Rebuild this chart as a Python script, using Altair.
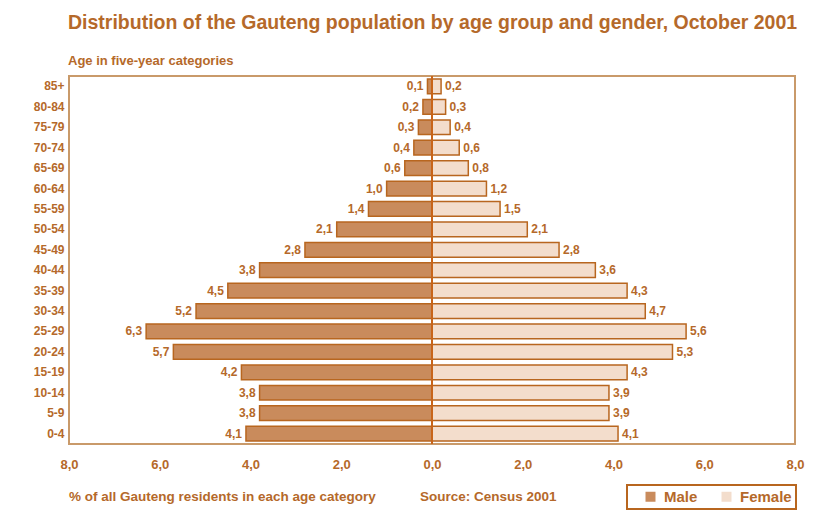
import altair as alt
import pandas as pd

ages = ["85+", "80-84", "75-79", "70-74", "65-69", "60-64", "55-59", "50-54", "45-49",
        "40-44", "35-39", "30-34", "25-29", "20-24", "15-19", "10-14", "5-9", "0-4"]
male = [0.1, 0.2, 0.3, 0.4, 0.6, 1.0, 1.4, 2.1, 2.8, 3.8, 4.5, 5.2, 6.3, 5.7, 4.2, 3.8, 3.8, 4.1]
female = [0.2, 0.3, 0.4, 0.6, 0.8, 1.2, 1.5, 2.1, 2.8, 3.6, 4.3, 4.7, 5.6, 5.3, 4.3, 3.9, 3.9, 4.1]
x_ticks = [-8, -6, -4, -2, 0, 2, 4, 6, 8]

TXT = "#b5692a"
EDGE = "#b8661f"
MALE_C = "#c98b5c"
FEMALE_C = "#f3ddcc"
FONT = "Liberation Sans"

rows = []
for a, m, f in zip(ages, male, female):
    rows.append({"age": a, "gender": "Male", "value": m})
    rows.append({"age": a, "gender": "Female", "value": f})
df = pd.DataFrame(rows)

base = alt.Chart(df).transform_calculate(
    signed="datum.gender == 'Male' ? -datum.value : datum.value",
    label="replace(format(datum.value, '.1f'), '.', ',')",
)

y_enc = alt.Y("age:N", sort=ages, title=None,
              scale=alt.Scale(paddingInner=0.28, paddingOuter=0.15),
              axis=alt.Axis(ticks=False, domain=False, labelFontWeight="bold",
                            labelFontSize=12, labelColor=TXT, labelFont=FONT,
                            labelPadding=5))
x_scale = alt.Scale(domain=[-8, 8], nice=False)

bars = base.mark_bar(stroke=EDGE, strokeWidth=1.5).encode(
    x=alt.X("signed:Q", scale=x_scale, title=None,
            axis=alt.Axis(values=x_ticks, grid=False, ticks=False, domain=False,
                          labelFlush=False,
                          labelExpr="replace(format(abs(datum.value), '.1f'), '.', ',')",
                          labelFontWeight="bold", labelFontSize=13, labelColor=TXT,
                          labelFont=FONT, labelPadding=14)),
    y=y_enc,
    color=alt.Color("gender:N", scale=alt.Scale(domain=["Male", "Female"],
                                                range=[MALE_C, FEMALE_C]),
                    legend=alt.Legend(title=None, orient="none", legendX=558, legendY=409,
                                      direction="horizontal", symbolType="square",
                                      symbolSize=100, symbolStrokeWidth=0,
                                      symbolOffset=12, labelOffset=6,
                                      labelFontSize=15, labelFontWeight="bold",
                                      labelColor=TXT, labelFont=FONT,
                                      padding=4, columnPadding=9, labelLimit=100)),
)

male_lab = base.transform_filter("datum.gender == 'Male'").mark_text(
    align="right", dx=-4, fontWeight="bold", fontSize=12, color=TXT, font=FONT
).encode(x=alt.X("signed:Q", scale=x_scale), y=alt.Y("age:N", sort=ages), text="label:N")

female_lab = base.transform_filter("datum.gender == 'Female'").mark_text(
    align="left", dx=4, fontWeight="bold", fontSize=12, color=TXT, font=FONT
).encode(x=alt.X("signed:Q", scale=x_scale), y=alt.Y("age:N", sort=ages), text="label:N")

zero = alt.Chart(pd.DataFrame({"z": [0]})).mark_rule(color="#c8651a", strokeWidth=2).encode(
    x=alt.X("z:Q", scale=x_scale))

notes = pd.DataFrame({"t": ["% of all Gauteng residents in each age category", "Source: Census 2001"],
                      "px": [0, 351]})
note_marks = alt.Chart(notes).mark_text(
    align="left", baseline="middle", fontWeight="bold", fontSize=13.5, color=TXT, font=FONT
).encode(x=alt.X("px:Q", scale=None), y=alt.value(421), text="t:N")

chart = alt.layer(bars, male_lab, female_lab, zero, note_marks).properties(
    width=726, height=368,
    background="white",
    autosize=alt.AutoSizeParams(type="none"),
    padding={"left": 61, "top": 68, "right": 10, "bottom": 70},
    title=alt.TitleParams(
        text="Distribution of the Gauteng population by age group and gender, October 2001",
        subtitle="Age in five-year categories",
        anchor="start", frame="group", offset=6, fontSize=19.5, fontWeight="bold",
        color=TXT, font=FONT, subtitleFont=FONT, subtitleFontSize=13,
        subtitleFontWeight="bold", subtitleColor=TXT, subtitlePadding=22, dx=-1),
).configure_view(stroke="#c99a6a", strokeWidth=2).configure_legend(
    strokeColor=EDGE, strokeWidth=2
)

chart.save("out.html", embed_options={"renderer": "svg", "actions": False})
